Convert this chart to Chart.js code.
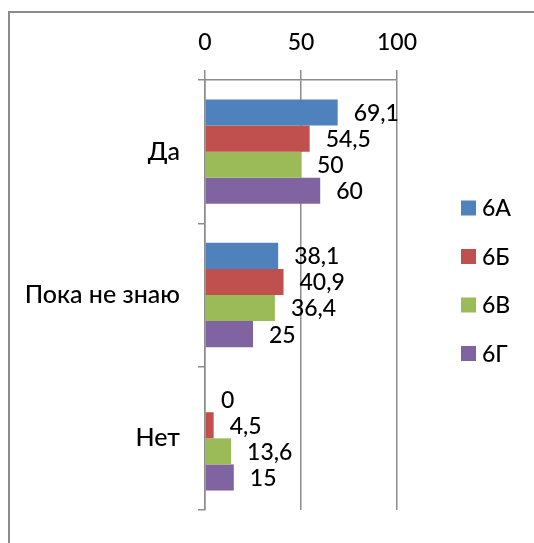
<!DOCTYPE html>
<html>
<head>
<meta charset="utf-8">
<script src="https://cdn.jsdelivr.net/npm/chart.js@4/dist/chart.umd.min.js"></script>
<style>
    html, body { margin: 0; padding: 0; background: #fff; }
    #wrap { position: absolute; left: 0; top: 0; width: 534px; height: 543px; }
</style>
</head>
<body>
<div id="wrap"><canvas id="answersChart"></canvas></div>
<script>
// categories and series
const categories = ['Да', 'Пока не знаю', 'Нет'];
const seriesNames = ['6А', '6Б', '6В', '6Г'];
const values6A = [69.1, 38.1, 0];
const values6B = [54.5, 40.9, 4.5];
const values6V = [50, 36.4, 13.6];
const values6G = [60, 25, 15];
const xTicks = [0, 50, 100];

const colors = ['#4f81bd', '#c0504d', '#9bbb59', '#8064a2'];
const fontFamily = 'Lato, "Liberation Sans", "DejaVu Sans", sans-serif';

document.addEventListener('DOMContentLoaded', function () {
    const ctx = document.getElementById('answersChart').getContext('2d');

    // frame lines (only top and left are visible in the picture)
    const framePlugin = {
        id: 'frame',
        beforeDraw(chart) {
            const c = chart.ctx;
            c.save();
            c.strokeStyle = '#8c8c8c';
            c.lineWidth = 2;
            c.beginPath();
            c.moveTo(8, 12);
            c.lineTo(chart.width, 12);
            c.moveTo(9, 11);
            c.lineTo(9, chart.height);
            c.stroke();
            c.restore();
        }
    };

    // value labels after the bars, comma decimals
    const valueLabels = {
        id: 'valueLabels',
        afterDatasetsDraw(chart) {
            const c = chart.ctx;
            c.save();
            c.font = '500 23px ' + fontFamily;
            c.fillStyle = '#000';
            c.textAlign = 'left';
            c.textBaseline = 'middle';
            chart.data.datasets.forEach((ds, i) => {
                chart.getDatasetMeta(i).data.forEach((bar, j) => {
                    const text = String(ds.data[j]).replace('.', ',');
                    c.fillText(text, bar.x + 16, bar.y + 1);
                });
            });
            c.restore();
        }
    };

    // legend on the right
    const sideLegend = {
        id: 'sideLegend',
        afterDraw(chart) {
            const c = chart.ctx;
            c.save();
            c.font = '500 23px ' + fontFamily;
            c.textAlign = 'left';
            c.textBaseline = 'middle';
            chart.data.datasets.forEach((ds, i) => {
                const y = 208 + i * 48.5;
                c.fillStyle = ds.backgroundColor;
                c.fillRect(461, y - 7.5, 15, 15);
                c.fillStyle = '#000';
                c.fillText(ds.label, 482, y + 1);
            });
            c.restore();
        }
    };

    const seriesValues = [values6A, values6B, values6V, values6G];

    new Chart(ctx, {
        type: 'bar',
        data: {
            labels: categories,
            datasets: seriesNames.map((name, i) => ({
                label: name,
                data: seriesValues[i],
                backgroundColor: colors[i],
                borderWidth: 0,
                barPercentage: 1,
                categoryPercentage: 0.728
            }))
        },
        options: {
            indexAxis: 'y',
            responsive: true,
            maintainAspectRatio: false,
            animation: false,
            layout: {
                padding: { left: 0, top: 0, right: 137, bottom: 23 }
            },
            scales: {
                x: {
                    position: 'top',
                    min: 0,
                    max: 100,
                    afterBuildTicks: function (scale) {
                        scale.ticks = xTicks.map(v => ({ value: v }));
                    },
                    afterFit: function (scale) {
                        scale.height = 80;
                    },
                    grid: {
                        color: '#8c8c8c',
                        lineWidth: 1.5,
                        tickLength: 10
                    },
                    border: { display: true, color: '#8c8c8c', width: 1.5 },
                    ticks: {
                        color: '#000',
                        padding: 14,
                        font: { family: fontFamily, size: 23, weight: '500' }
                    }
                },
                y: {
                    afterFit: function (scale) {
                        scale.width = 205;
                    },
                    grid: {
                        drawOnChartArea: false,
                        color: '#8c8c8c',
                        lineWidth: 1.5,
                        tickLength: 7
                    },
                    border: { display: true, color: '#8c8c8c', width: 1.5 },
                    ticks: {
                        color: '#000',
                        padding: 18,
                        font: { family: fontFamily, size: 25, weight: '500' }
                    }
                }
            },
            plugins: {
                legend: { display: false },
                tooltip: { enabled: false }
            }
        },
        plugins: [framePlugin, valueLabels, sideLegend]
    });
});
</script>
</body>
</html>
